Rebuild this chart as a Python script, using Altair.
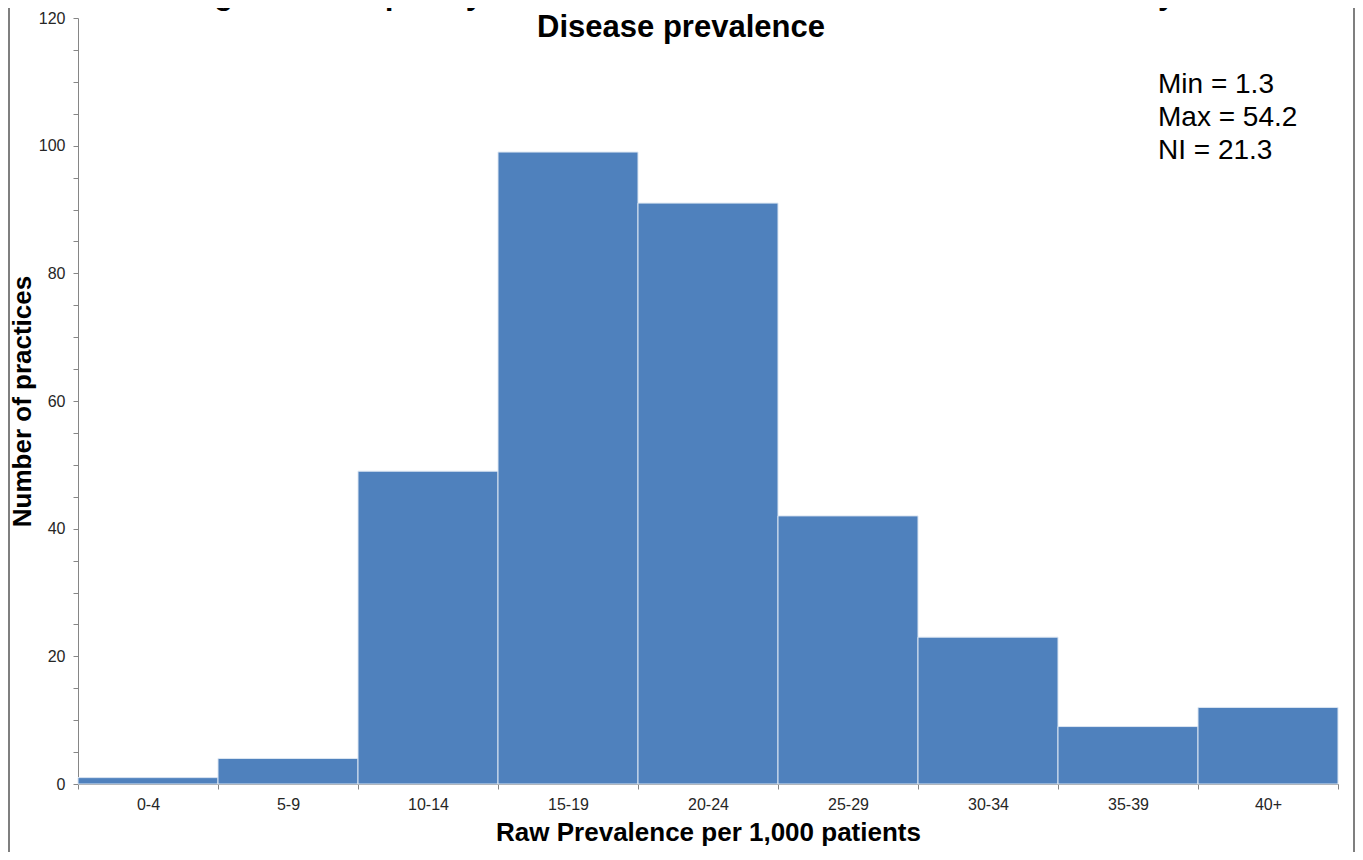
import altair as alt
import pandas as pd

# Bins and number of practices in each one
bins = ["0-4", "5-9", "10-14", "15-19", "20-24", "25-29", "30-34", "35-39", "40+"]
practices = [1, 4, 49, 99, 91, 42, 23, 9, 12]

y_ticks = list(range(0, 121, 5))
title_lines = ["Figure 3: Frequency distribution of Chronic Obstructive Pulmonary",
               "Disease prevalence"]
stats_lines = ["Min = 1.3", "Max = 54.2", "NI = 21.3"]

FONT = "Liberation Sans"
GREY = "#868686"

df = pd.DataFrame({"bin": bins, "practices": practices})

bars = alt.Chart(df).mark_bar(
    color="#4F81BD", stroke="#dce6f2", strokeWidth=1
).encode(
    x=alt.X("bin:N", sort=bins,
            scale=alt.Scale(paddingInner=0, paddingOuter=0),
            axis=alt.Axis(labelAngle=0, labelFont=FONT, labelFontSize=16,
                          labelColor="#262626", labelPadding=7,
                          tickBand="extent", tickSize=5, tickColor=GREY,
                          domainColor=GREY, grid=False,
                          title="Raw Prevalence per 1,000 patients",
                          titleFont=FONT, titleFontSize=26, titleFontWeight="bold",
                          titleColor="black", titleX=630, titleY=56,
                          titleBaseline="alphabetic")),
    y=alt.Y("practices:Q",
            scale=alt.Scale(domain=[0, 120], nice=False),
            axis=alt.Axis(values=y_ticks,
                          labelExpr="datum.value % 20 == 0 ? datum.label : ''",
                          labelOverlap=False, labelFont=FONT, labelFontSize=16,
                          labelColor="#262626", labelPadding=8,
                          tickSize=5, tickColor=GREY, domainColor=GREY, grid=False,
                          title="Number of practices",
                          titleFont=FONT, titleFontSize=26, titleFontWeight="bold",
                          titleColor="black", titleX=-56, titleY=383,
                          titleAngle=-90, titleAlign="center",
                          titleBaseline="middle"))
)

title = alt.Chart(pd.DataFrame({"t": ["\n".join(title_lines)]})).mark_text(
    font=FONT, fontSize=31, fontWeight="bold", color="black",
    align="center", baseline="alphabetic", lineBreak="\n", lineHeight=33
).encode(text="t:N", x=alt.value(603), y=alt.value(-14.5))

stats = alt.Chart(pd.DataFrame({"t": ["\n".join(stats_lines)]})).mark_text(
    font=FONT, fontSize=28, color="black",
    align="left", baseline="alphabetic", lineBreak="\n", lineHeight=33
).encode(text="t:N", x=alt.value(1080), y=alt.value(74.5))

border = alt.Chart(pd.DataFrame({"edge": [-69, 1276]})).mark_rule(
    color="#7f7f7f", strokeWidth=2
).encode(
    x=alt.X("edge:Q", scale=None),
    y=alt.value(-20), y2=alt.value(850)
)

chart = alt.layer(bars, title, stats, border).properties(
    width=1260, height=766,
    autosize=alt.AutoSizeParams(type="none"),
    padding={"left": 70, "top": 10, "right": 17, "bottom": 68},
    background="white"
).configure_view(stroke=None)

chart.save("out.html", embed_options={"renderer": "svg", "actions": False})
